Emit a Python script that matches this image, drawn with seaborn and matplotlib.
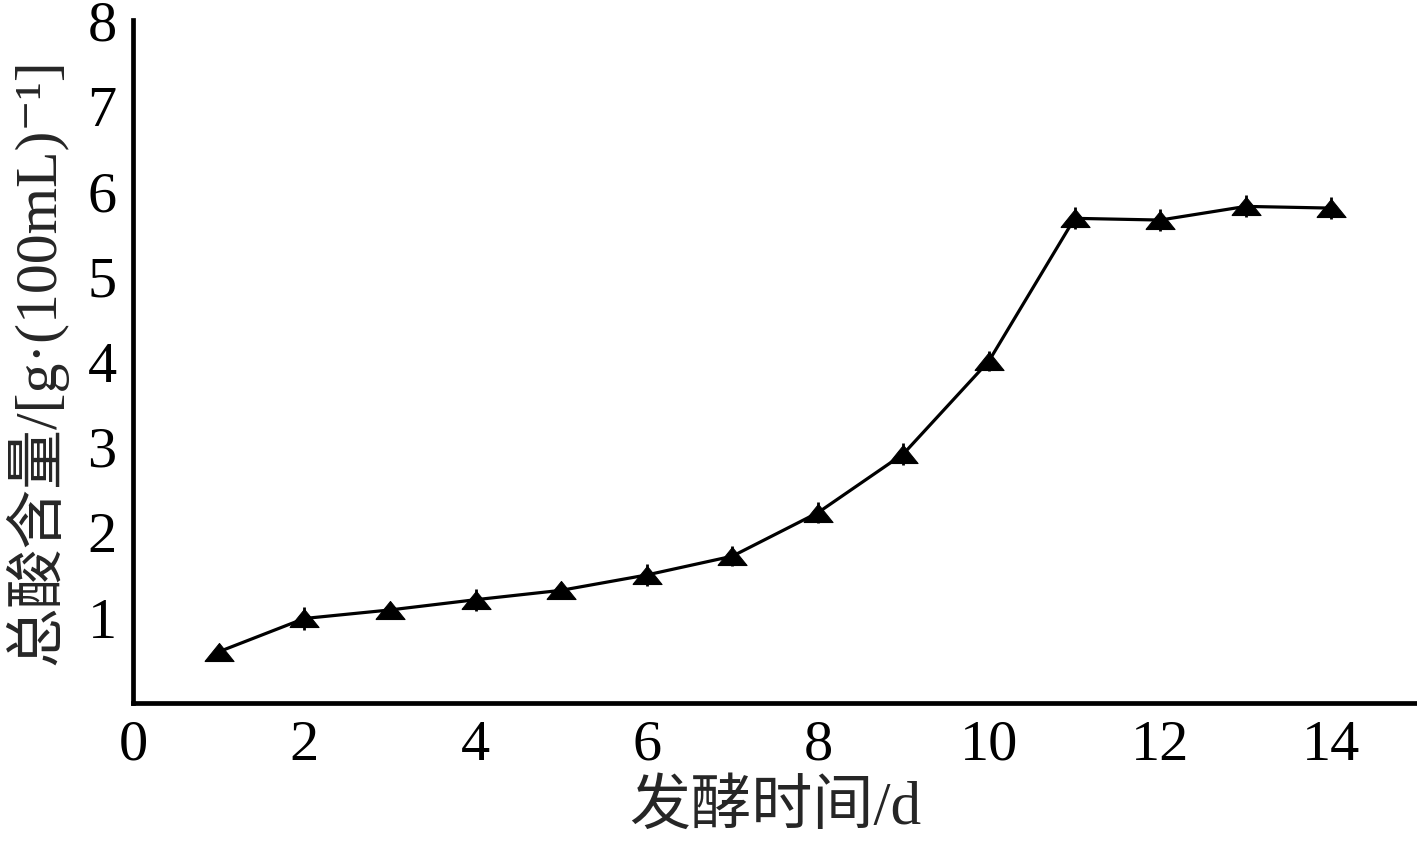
import numpy as np
import pandas as pd
import matplotlib
matplotlib.use("Agg")
import matplotlib.pyplot as plt
import seaborn as sns

# fermentation time (d) and total acid content
days = [1, 2, 3, 4, 5, 6, 7, 8, 9, 10, 11, 12, 13, 14]
acid = [0.60, 0.99, 1.09, 1.21, 1.32, 1.50, 1.72, 2.23, 2.92, 4.01, 5.68, 5.66, 5.82, 5.80]
err = [0.08, 0.13, 0.08, 0.13, 0.08, 0.13, 0.12, 0.12, 0.13, 0.12, 0.13, 0.13, 0.13, 0.13]

x_ticks = [0, 2, 4, 6, 8, 10, 12, 14]
y_ticks = [1, 2, 3, 4, 5, 6, 7, 8]

df = pd.DataFrame({"day": days, "acid": acid, "err": err})

sns.set_style("white")
plt.rcParams['font.family'] = ['Liberation Serif', 'Noto Sans CJK SC', 'DejaVu Serif']

fig = plt.figure(figsize=(14.17, 8.5), dpi=100)
ax = fig.add_axes([0.094, 0.173, 0.906, 0.803])

# wide, flat triangle marker
tri = [(-1, -0.62), (1, -0.62), (0, 0.62), (-1, -0.62)]

ax.errorbar(df["day"], df["acid"], yerr=df["err"], fmt="none",
            ecolor="black", elinewidth=2, capsize=0, zorder=2)
sns.lineplot(data=df, x="day", y="acid", ax=ax, color="black",
             linewidth=2.3, marker=tri, markersize=21,
             markerfacecolor="black", markeredgecolor="black", zorder=3)

ax.set_xlim(0, 15)
ax.set_ylim(0, 8)
ax.set_xticks(x_ticks)
ax.set_yticks(y_ticks)

for s in ["top", "right"]:
    ax.spines[s].set_visible(False)
for s in ["left", "bottom"]:
    ax.spines[s].set_linewidth(3.4)
    ax.spines[s].set_color("black")

ax.tick_params(axis="both", direction="in", length=16, width=3.2,
               labelsize=42, colors="black", pad=12)

ax.set_xlabel("发酵时间/d", fontsize=44, labelpad=6)
ax.set_ylabel("总酸含量/[g·(100mL)⁻¹]", fontsize=43, labelpad=14)

fig.savefig("out.png", dpi=100)
